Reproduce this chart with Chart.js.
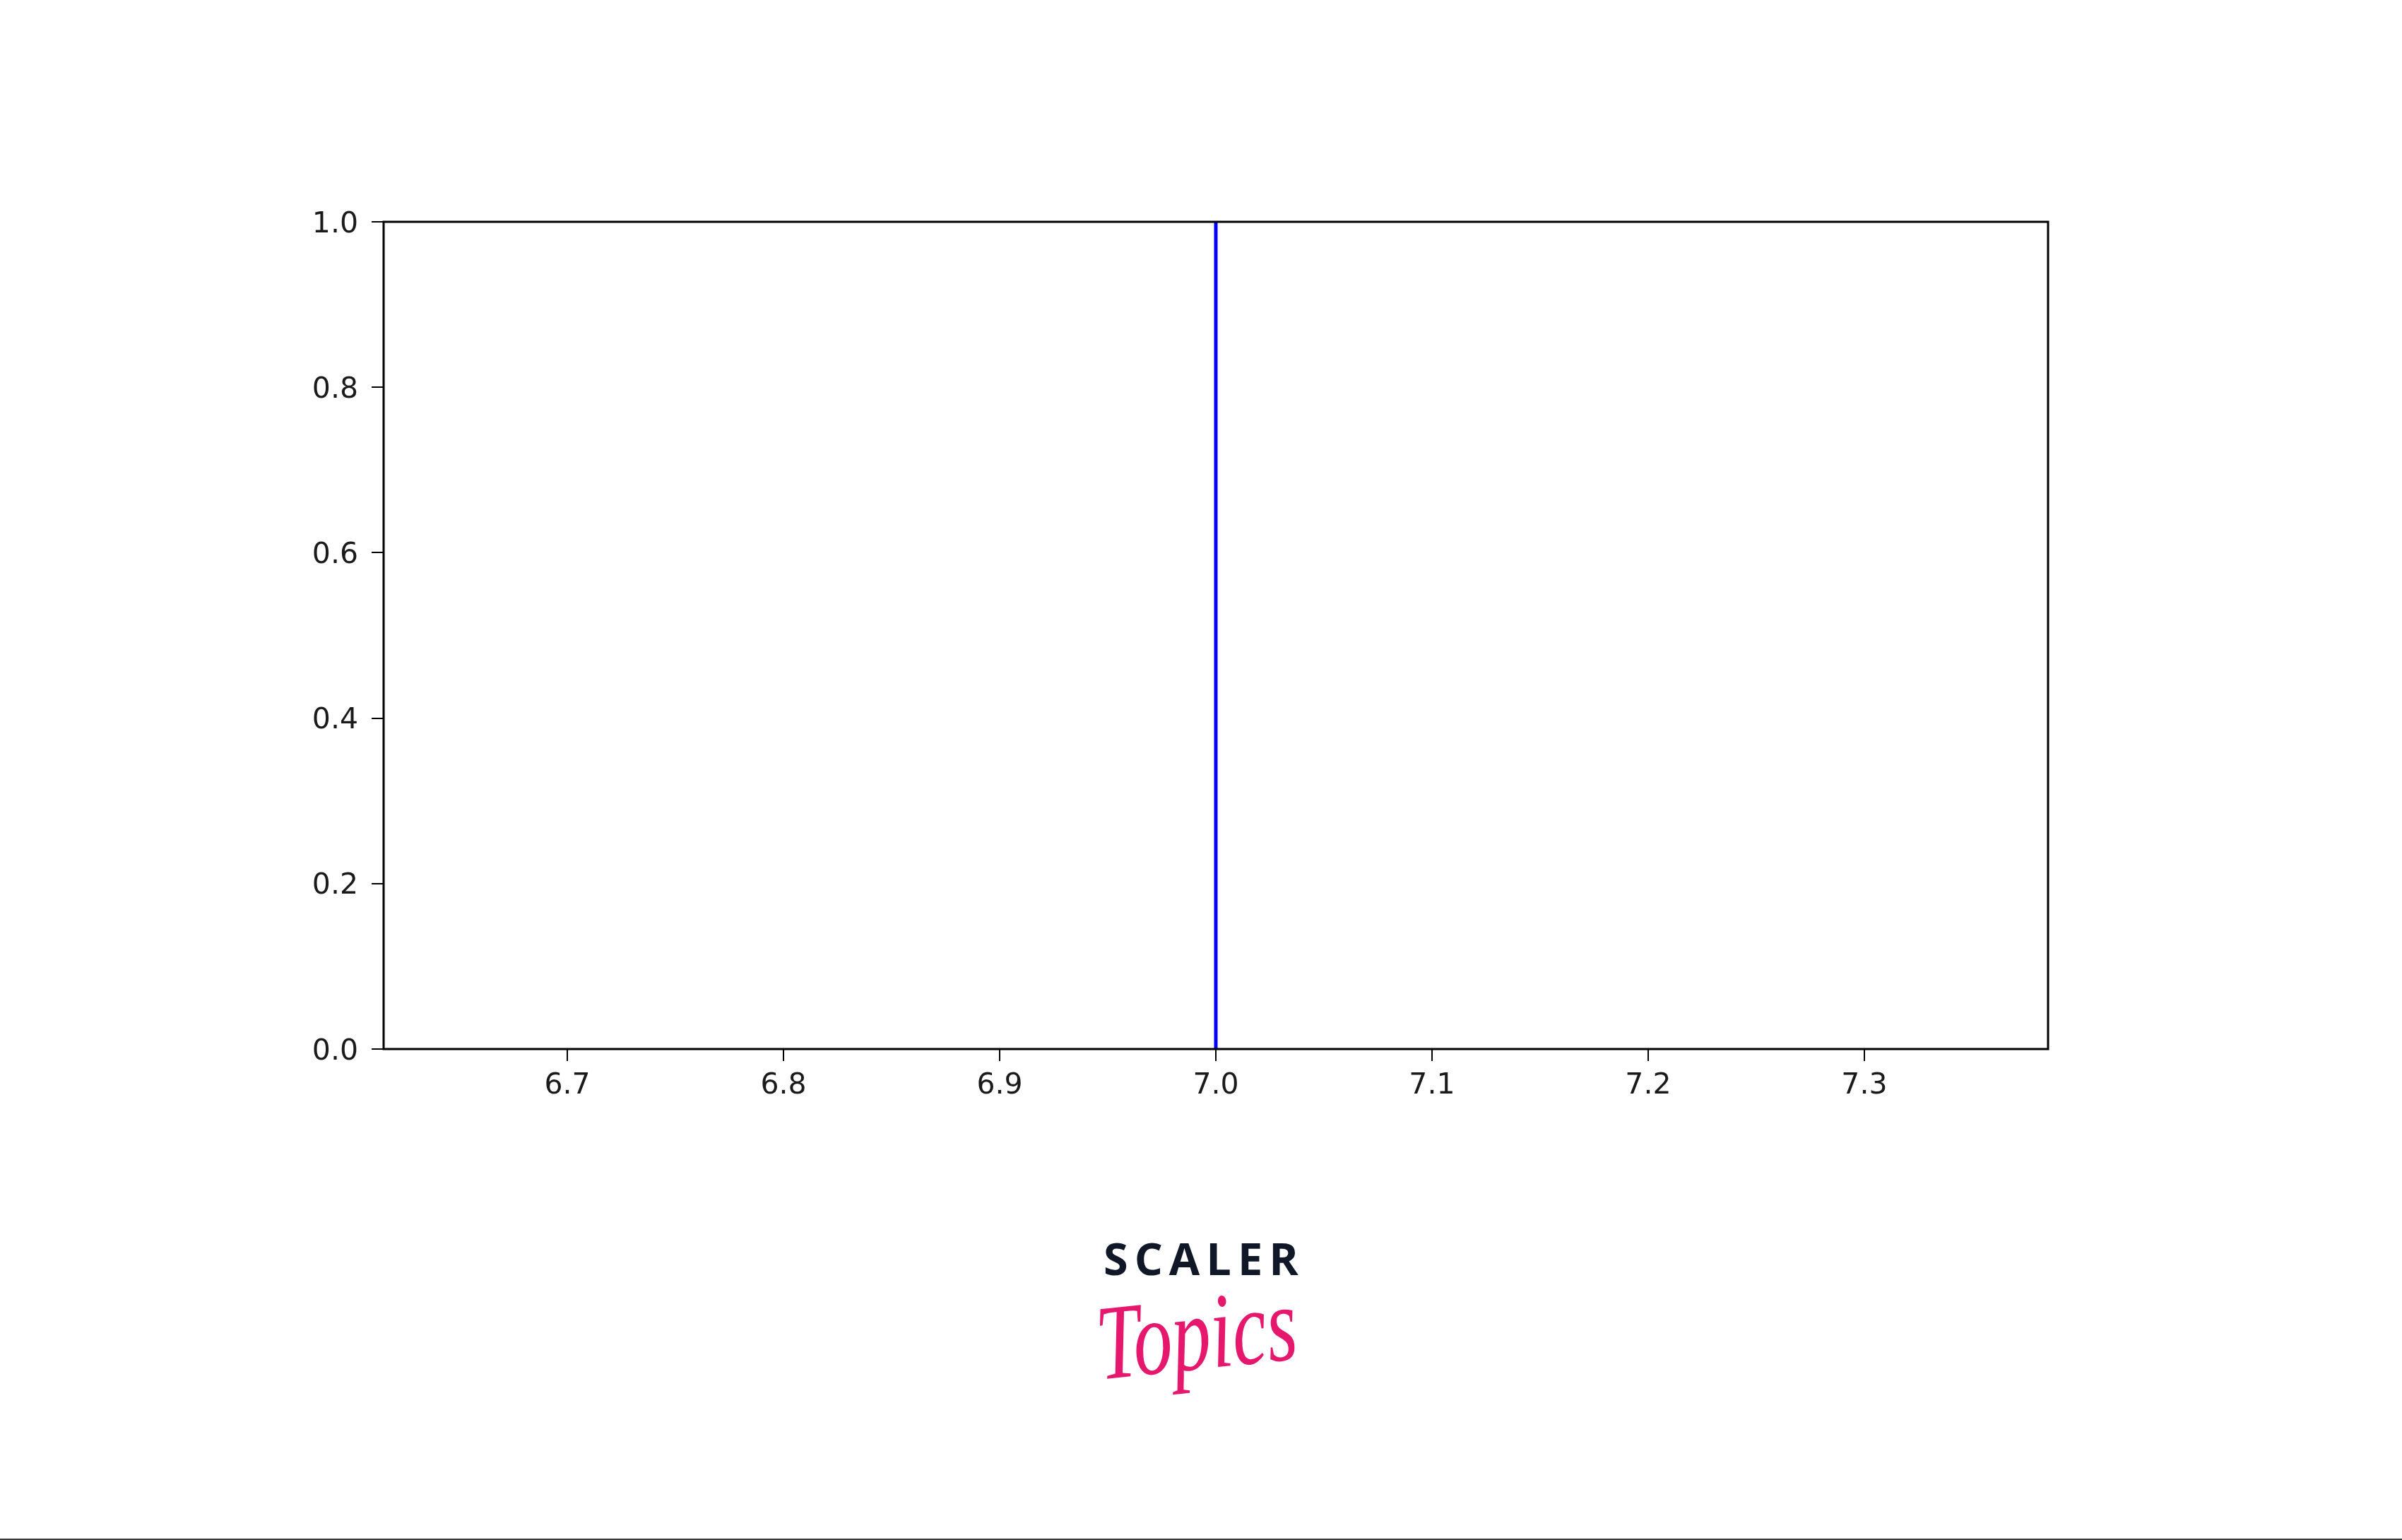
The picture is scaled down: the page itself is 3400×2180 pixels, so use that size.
<!DOCTYPE html>
<html>
<head>
<meta charset="utf-8">
<script src="https://cdn.jsdelivr.net/npm/chart.js@4"></script>
<style>
  html, body { margin: 0; padding: 0; background: #fff; }
  body { width: 3400px; height: 2180px; position: relative; overflow: hidden; }
  #caja { position: absolute; left: 0; top: 0; width: 3400px; height: 1600px; }
  #scaler { position: absolute; left: 1562px; top: 1749px; font-family: "Open Sans", sans-serif; font-weight: 700;
            font-size: 63px; line-height: 63px; letter-spacing: 9px; color: #101828; white-space: nowrap; }
  #topics { position: absolute; left: 1556px; top: 1838px; font-family: "Liberation Serif", serif; font-style: italic;
            font-size: 108px; line-height: 108px; color: #e6186e; white-space: nowrap;
            transform: rotate(-6deg) scale(1.02, 1.4); transform-origin: 50% 60%; }
  #linea { position: absolute; left: 0; top: 2178px; width: 3400px; height: 2px; background: #3a3a3a; }
</style>
</head>
<body>
<div id="caja"><canvas id="grafico"></canvas></div>
<div id="scaler">SCALER</div>
<div id="topics">Topics</div>
<div id="linea"></div>
<script>
// datos de la línea vertical (axvline en x = 7)
const lineaX = [7, 7];
const lineaY = [0, 1];
const xMin = 6.615;
const xMax = 7.385;
const xTicks = [6.7, 6.8, 6.9, 7.0, 7.1, 7.2, 7.3];
const yTicks = [0.0, 0.2, 0.4, 0.6, 0.8, 1.0];

const puntos = lineaX.map((x, i) => ({x: x, y: lineaY[i]}));

// marco completo del área del gráfico
const marco = {
  id: "marco",
  afterDraw(chart) {
    const {ctx, chartArea: a} = chart;
    ctx.save();
    ctx.strokeStyle = "#000";
    ctx.lineWidth = 3;
    ctx.strokeRect(a.left, a.top, a.right - a.left, a.bottom - a.top);
    ctx.restore();
  }
};

const fuente = { family: "'DejaVu Sans', sans-serif", size: 41 };

const ctx = document.getElementById("grafico").getContext("2d");
new Chart(ctx, {
  type: "line",
  data: {
    datasets: [
      {
        data: puntos,
        borderColor: "#0000ff",
        borderWidth: 5,
        pointRadius: 0,
        fill: false,
        tension: 0
      }
    ]
  },
  options: {
    responsive: true,
    maintainAspectRatio: false,
    animation: false,
    layout: { padding: { top: 314, right: 501, left: 0, bottom: 0 } },
    plugins: {
      legend: { display: false },
      tooltip: { enabled: false }
    },
    scales: {
      x: {
        type: "linear",
        min: xMin,
        max: xMax,
        afterBuildTicks: s => { s.ticks = xTicks.map(v => ({value: v})); },
        afterFit: s => { s.height = 115; },
        ticks: { color: "#1a1a1a", font: fuente, padding: 11, maxRotation: 0, callback: v => Number(v).toFixed(1) },
        grid: { drawOnChartArea: false, drawTicks: true, tickLength: 17, color: "#000", lineWidth: 2 },
        border: { display: false }
      },
      y: {
        type: "linear",
        min: 0,
        max: 1,
        afterBuildTicks: s => { s.ticks = yTicks.map(v => ({value: v})); },
        afterFit: s => { s.width = 543; },
        ticks: { color: "#1a1a1a", font: fuente, padding: 19, labelOffset: 4, callback: v => Number(v).toFixed(1) },
        grid: { drawOnChartArea: false, drawTicks: true, tickLength: 17, color: "#000", lineWidth: 2 },
        border: { display: false }
      }
    }
  },
  plugins: [marco]
});
</script>
</body>
</html>
